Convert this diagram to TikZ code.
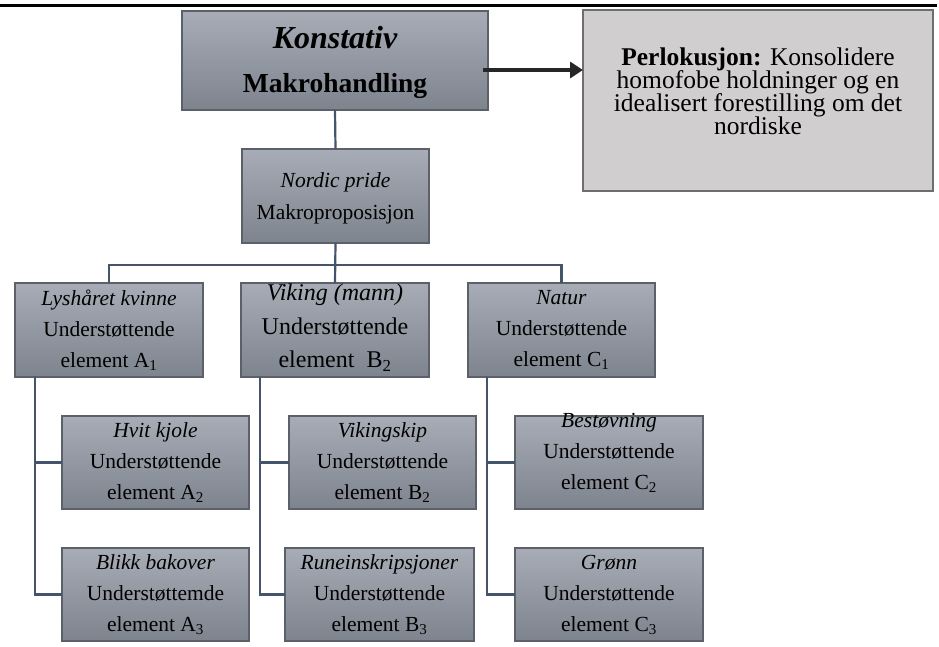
\documentclass[tikz,border=0pt]{standalone}
\usepackage{fontspec}
\setmainfont{Liberation Serif}
\usetikzlibrary{arrows.meta,calc}
\definecolor{boxtop}{RGB}{167,172,182}
\definecolor{boxbot}{RGB}{126,132,142}
\definecolor{boxline}{RGB}{92,97,105}
\definecolor{connc}{RGB}{68,84,106}
\definecolor{perlfill}{RGB}{208,206,206}
\definecolor{perlline}{RGB}{110,110,110}
\definecolor{arrowc}{RGB}{38,38,38}
\newcommand\boxfont{\fontsize{21.5}{31}\selectfont}
\newcommand\perlfont{\fontsize{25.5}{23}\selectfont\lineskiplimit=-30pt\relax}
\begin{document}
\begin{tikzpicture}[x=1pt,y=-1pt,
  box/.style={draw=boxline,line width=1.1pt,top color=boxtop,bottom color=boxbot,
    minimum width=#1,minimum height=93pt,inner sep=0pt,outer sep=0pt},
  box/.default=188pt,
  txt/.style={align=center,inner sep=0pt,font=\boxfont},
  connline/.style={draw=connc,line width=2.2pt},
  bigarrow/.style={draw=arrowc,line width=3.8pt,-{Triangle[length=13pt,width=16pt]}}]
\useasboundingbox (0,0) rectangle (939,646);
\draw[line width=2.5pt,black] (0,5.5) -- (937,5.5);

% boxes
\node[box=306pt,minimum height=99pt] (top) at (335,60.5) {};
\node[draw=perlline,line width=1.1pt,fill=perlfill,minimum width=350pt,minimum height=181pt,inner sep=0pt,outer sep=0pt] (perl) at (758,100.5) {};
\node[box=187pt,minimum height=94pt] (np) at (335.5,196) {};
\node[box,minimum height=94pt] (a1) at (109,330) {};
\node[box,minimum height=94pt] (b1) at (335,330) {};
\node[box=187pt,minimum height=94pt] (c1) at (561.5,330) {};
\node[box=187pt] (a2) at (155.5,462.5) {};
\node[box=187pt] (a3) at (155.5,594.5) {};
\node[box=187pt] (b2) at (382.5,462.5) {};
\node[box=189pt] (b3) at (379.5,594.5) {};
\node[box] (c2) at (609,462.5) {};
\node[box] (c3) at (609,594.5) {};

% texts
\node[txt,font=\fontsize{27.5}{44}\selectfont] (topt) at ([yshift=-2pt]top.center)
  {{\fontsize{32}{44}\selectfont\bfseries\itshape Konstativ}\\\textbf{Makrohandling}};
\node[txt,font=\perlfont] (perlt) at ([yshift=9pt]perl.center)
  {\textbf{Perlokusjon:} Konsolidere\\homofobe holdninger og en\\idealisert forestilling om det\\nordiske};
\node[txt,font=\fontsize{21.5}{32}\selectfont] (npt) at ([yshift=-2pt]np.center)
  {\textit{Nordic pride}\\Makroproposisjon};
\node[txt] (a1t) at (a1.center) {\textit{Lyshåret kvinne}\\Understøttende\\element A\textsubscript{1}};
\node[txt,font=\fontsize{24}{33.5}\selectfont] (b1t) at ([yshift=2pt]b1.center) {\textit{Viking (mann)}\\Understøttende\\element\ \ B\textsubscript{2}};
\node[txt] (c1t) at (c1.center) {\textit{Natur}\\Understøttende\\element C\textsubscript{1}};
\node[txt] (a2t) at (a2.center) {\textit{Hvit kjole}\\Understøttende\\element A\textsubscript{2}};
\node[txt] (a3t) at (a3.center) {\textit{Blikk bakover}\\Understøttemde\\element A\textsubscript{3}};
\node[txt] (b2t) at (b2.center) {\textit{Vikingskip}\\Understøttende\\element B\textsubscript{2}};
\node[txt] (b3t) at (b3.center) {\textit{Runeinskripsjoner}\\Understøttende\\element B\textsubscript{3}};
\node[txt] (c2t) at ([yshift=10pt]c2.center) {\textit{Bestøvning}\\Understøttende\\element C\textsubscript{2}};
\node[txt] (c3t) at (c3.center) {\textit{Grønn}\\Understøttende\\element C\textsubscript{3}};

% connectors
\coordinate (bus) at (335,265);
\draw[connline] (top.south) -- (np.north);
\draw[connline] (np.south) -- (b1.north);
\draw[connline] (a1.north) -- (a1.north |- bus) -- (c1.north |- bus) -- (c1.north);
\coordinate (as) at ($(a1.south west)+(20,0)$);
\coordinate (bs) at ($(b1.south west)+(19,0)$);
\coordinate (cs) at ($(c1.south west)+(19,0)$);
\draw[connline] (as) |- (a3.west);
\draw[connline] (as |- a2.west) -- (a2.west);
\draw[connline] (bs) |- (b3.west);
\draw[connline] (bs |- b2.west) -- (b2.west);
\draw[connline] (cs) |- (c3.west);
\draw[connline] (cs |- c2.west) -- (c2.west);
\coordinate (arrs) at (483,70);
\draw[bigarrow] (arrs) -- (arrs -| perl.west);
\end{tikzpicture}
\end{document}
